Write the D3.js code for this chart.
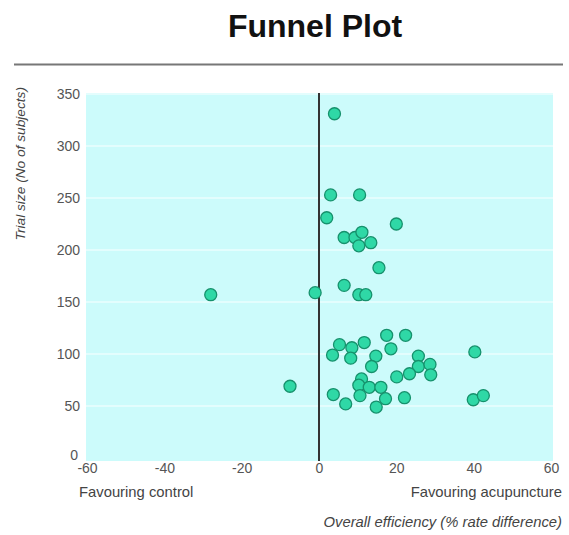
<!DOCTYPE html>
<html>
<head>
<meta charset="utf-8">
<script src="https://cdn.jsdelivr.net/npm/d3@7"></script>
<style>
  html, body { margin: 0; padding: 0; background: #fff; }
  svg { display: block; }
</style>
</head>
<body>
<svg id="chart" width="569" height="535"></svg>
<script>
// ---- data ----
const effectDiff = [4, 3, 10.5, 2, 20, 6.5, 9.3, 11.1, 13.4, 10.3,
  15.5, -28, -1, 6.5, 10.3, 12.1,
  17.5, 22.4, 5.3, 8.5, 11.7, 18.6, 3.5, 8.2, 14.7, 13.6,
  25.7, 25.7, 28.7, 28.9, 23.4, 20.1, 40.3, -7.5,
  11.0, 10.3, 13.0, 16.0, 3.7, 10.6, 17.2, 22.1, 6.9, 14.8, 39.9, 42.5];
const trialSize = [331, 253, 253, 231, 225, 212, 212, 217, 207, 204,
  183, 157, 159, 166, 157, 157,
  118, 118, 109, 106, 111, 105, 99, 96, 98, 88,
  98, 88, 90, 80, 81, 78, 102, 69,
  76, 70, 68, 68, 61, 60, 57, 58, 52, 49, 56, 60];
const xTicks = [-60, -40, -20, 0, 20, 40, 60];
const yTicks = [0, 50, 100, 150, 200, 250, 300, 350];
const titleText = "Funnel Plot";
const yLabel = "Trial size (No of subjects)";
const xLabelLeft = "Favouring control";
const xLabelRight = "Favouring acupuncture";
const xTitle = "Overall efficiency (% rate difference)";

// ---- drawing ----
const svg = d3.select("#chart");
const font = "'Liberation Sans', Arial, sans-serif";

const x = d3.scaleLinear().domain([-60, 60]).range([87, 551]);
const y = d3.scaleLinear().domain([0, 350]).range([458, 94]);

// title
svg.append("text").attr("x", 315).attr("y", 37)
  .attr("text-anchor", "middle").attr("font-family", font)
  .attr("font-weight", "bold").attr("font-size", 32).attr("fill", "#111")
  .text(titleText);

// rule under title
svg.append("line").attr("x1", 14).attr("x2", 563).attr("y1", 64.5).attr("y2", 64.5)
  .attr("stroke", "#777").attr("stroke-width", 2);

// plot background
svg.append("rect").attr("x", 86).attr("y", 93).attr("width", 467).attr("height", 368)
  .attr("fill", "#ccfbfb");

// horizontal gridlines
svg.append("g").selectAll("line").data(yTicks.filter(d => d > 0)).join("line")
  .attr("x1", 86).attr("x2", 553)
  .attr("y1", d => y(d)).attr("y2", d => y(d))
  .attr("stroke", "#ffffff").attr("stroke-opacity", 0.6).attr("stroke-width", 1.5);

// y axis
const yAxis = svg.append("g").attr("transform", "translate(80,0)")
  .call(d3.axisLeft(y).tickValues(yTicks).tickSize(0).tickPadding(0));
yAxis.select(".domain").remove();
yAxis.selectAll("text").attr("font-family", font).attr("font-size", 14)
  .attr("fill", "#555");
yAxis.selectAll(".tick").filter(d => d === 0).select("text")
  .attr("x", -2).attr("dy", "0.1em");

// x axis
const xAxis = svg.append("g").attr("transform", "translate(0,460)")
  .call(d3.axisBottom(x).tickValues(xTicks).tickSize(0).tickPadding(3)
    .tickFormat(d => d < 0 ? "-" + Math.abs(d) : d));
xAxis.select(".domain").remove();
xAxis.selectAll("text").attr("font-family", font).attr("font-size", 14)
  .attr("fill", "#555");

// zero line
svg.append("line").attr("x1", x(0)).attr("x2", x(0)).attr("y1", 93).attr("y2", 461)
  .attr("stroke", "#333").attr("stroke-width", 2);

// points
const pts = effectDiff.map((d, i) => ({ x: d, y: trialSize[i] }));
svg.append("g").selectAll("circle").data(pts).join("circle")
  .attr("cx", d => x(d.x)).attr("cy", d => y(d.y)).attr("r", 6)
  .attr("fill", "#2fd8a6").attr("stroke", "#16916c").attr("stroke-width", 1.3);

// y axis label
svg.append("text").attr("transform", "translate(25,87) rotate(-90)")
  .attr("text-anchor", "end").attr("font-family", font).attr("font-style", "italic")
  .attr("font-size", 13.7).attr("fill", "#444").text(yLabel);

// favouring labels
svg.append("text").attr("x", 79).attr("y", 497).attr("font-family", font)
  .attr("font-size", 14.8).attr("fill", "#444").text(xLabelLeft);
svg.append("text").attr("x", 562).attr("y", 497).attr("text-anchor", "end")
  .attr("font-family", font).attr("font-size", 14.8).attr("fill", "#444").text(xLabelRight);

// x title
svg.append("text").attr("x", 562).attr("y", 527).attr("text-anchor", "end")
  .attr("font-family", font).attr("font-style", "italic")
  .attr("font-size", 14.8).attr("fill", "#444").text(xTitle);
</script>
</body>
</html>
